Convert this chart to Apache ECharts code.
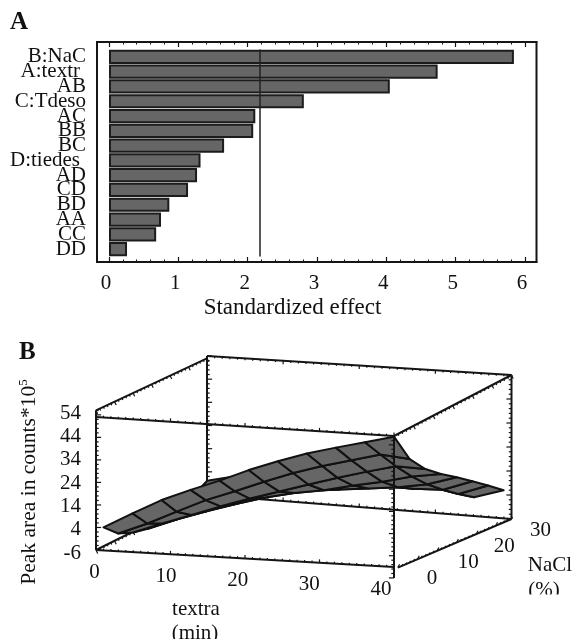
<!DOCTYPE html>
<html><head><meta charset="utf-8">
<style>html,body{margin:0;padding:0;background:#fff}#c{width:574px;height:642px}</style>
<script src="https://cdn.jsdelivr.net/npm/echarts@6/dist/echarts.min.js"></script>
</head><body><div id="c"></div>
<script>
// ---- Panel A data
const effectNames = ['B:NaC','A:textr','AB','C:Tdeso','AC','BB','BC','D:tiedes','AD','CD','BD','AA','CC','DD'];
const effectValues = [5.84,4.74,4.05,2.81,2.11,2.08,1.66,1.32,1.27,1.14,0.87,0.75,0.68,0.26];
const significance = 2.18;
const effectTicks = [0,1,2,3,4,5,6];
const effectMinorTicks = [];
for (let i=0;i<=30;i++) if (i%5) effectMinorTicks.push(i/5);

// ---- Panel B data
const textraLevels = [1,4.9,8.8,12.7,16.6,20.5,24.4,28.3,32.2,36.1,40];
const naclLevels = [0,4,8,12,16,20,24,28];
const peak01 = [4.4,-1.7,-4.5,-6.1,-6.4,-4.7,-1.6,2];
const peak05 = [11.5,3.6,0.3,-1.1,-0.9,-0.1,1.3,5];
const peak09 = [18.3,9.7,4.9,3.3,2.8,2.9,3,3.7];
const peak13 = [23.7,15.7,9.6,7.4,6.6,6.5,6.6,6.8];
const peak17 = [28.7,20.5,13.9,11.1,9.8,9.5,9.3,9];
const peak21 = [34.3,25.6,17.9,13.9,11.8,11.1,11,10.6];
const peak24 = [39.1,30.3,21.8,16,13.1,12,11.8,11.4];
const peak28 = [43.5,34.3,25.6,18.9,14.5,12.3,11.7,11];
const peak32 = [47,37.7,29.2,21.4,15.9,12.1,10.2,8.8];
const peak36 = [50.3,41.1,32.4,24.6,18,12.6,7.8,3.5];
const peak40 = [53.7,39.9,32,26.5,21.9,17.1,12.3,7.4];
const peakColumns = [peak01,peak05,peak09,peak13,peak17,peak21,peak24,peak28,peak32,peak36,peak40];
const peakTicks = [-6,4,14,24,34,44,54];
const textraTicks = [0,10,20,30,40];
const naclTicks = [0,10,20,30];

// ---- 3D view: screen position of the eight corners of the box
const view = {
  t:[0,40], n:[0,30], z:[-6,54],
  c000:[96,550], c100:[394,567], c010:[207,495], c110:[511.5,519],
  c001:[96,417], c101:[394,436], c011:[207,356], c111:[511.5,375]
};
function project(t,n,z){
  const a=(t-view.t[0])/(view.t[1]-view.t[0]), b=(n-view.n[0])/(view.n[1]-view.n[0]), c=(z-view.z[0])/(view.z[1]-view.z[0]);
  const out=[0,0];
  for (const k of [0,1]) {
    const bottom=(1-b)*((1-a)*view.c000[k]+a*view.c100[k])+b*((1-a)*view.c010[k]+a*view.c110[k]);
    const top=(1-b)*((1-a)*view.c001[k]+a*view.c101[k])+b*((1-a)*view.c011[k]+a*view.c111[k]);
    out[k]=(1-c)*bottom+c*top;
  }
  return out;
}
// edges of the box: from, to, subdivisions, major every, tick direction
const backEdges = [
  [[0,30,-6],[0,30,54],30,5,[3,0]],
  [[0,30,54],[40,30,54],40,10,[0,2]],
  [[40,30,-6],[40,30,54],30,5,[-3,0]],
  [[0,30,-6],[40,30,-6],40,10,[0,-2]],
  [[0,0,-6],[0,30,-6],30,5,[1,2]]
];
const frontEdges = [
  [[0,0,-6],[0,0,57],31,5,[3,0]],
  [[0,0,54],[40,0,54],40,10,[0,-2]],
  [[0,0,-6],[40,0,-6],40,10,[0,-2]],
  [[40,0,-11],[40,0,54],32,5,[-3,0]],
  [[0,0,57],[0,30,53],30,5,[1,2]],
  [[40,0,54],[40,30,54],30,5,[1,2]],
  [[40,1,-7],[40,30,-6],29,5,[1,-2]]
];
const surfaceCells = [];
for (let i=naclLevels.length-2;i>=0;i--) for (let j=0;j<textraLevels.length-1;j++) surfaceCells.push([j,i]);

const LINE='#151515', FILL='#666666', FONT='"Liberation Serif"';
const chart = echarts.init(document.getElementById('c'),null,{renderer:'canvas'});

function edgeRenderer(edges){
  return function(params,api){
    const e=edges[params.dataIndex], kids=[];
    const pt=(s)=>{const p=e[0],q=e[1];return project(p[0]+(q[0]-p[0])*s,p[1]+(q[1]-p[1])*s,p[2]+(q[2]-p[2])*s);};
    const a=api.coord(pt(0)), b=api.coord(pt(1));
    kids.push({type:'line',shape:{x1:a[0],y1:a[1],x2:b[0],y2:b[1]},style:{stroke:LINE,lineWidth:2}});
    for (let k=0;k<=e[2];k++){
      const p=api.coord(pt(k/e[2])), m=(k%e[3]===0)?1.7:0.9;
      kids.push({type:'line',shape:{x1:p[0],y1:p[1],x2:p[0]+e[4][0]*m,y2:p[1]+e[4][1]*m},style:{stroke:LINE,lineWidth:1.2}});
    }
    return {type:'group',children:kids};
  };
}
function labelItem(text,p,align){
  return {type:'text',x:p[0],y:p[1],style:{text:String(text),font:'21px '+FONT,fill:'#111',textAlign:align,textVerticalAlign:'middle',verticalAlign:'middle'}};
}
const axisLabelData = [
  ...peakTicks.map(v=>['z',v]), ...textraTicks.map(v=>['t',v]), ...naclTicks.map(v=>['n',v])
];
const hiddenIdx = {xAxisIndex:5,yAxisIndex:2};

const option = {
  animation:false, backgroundColor:'#fff',
  grid:[
    {left:109,width:416,top:49.5,height:207,containLabel:false},
    {left:97,width:439.5,top:42,height:220,show:true,borderColor:LINE,borderWidth:2,backgroundColor:'transparent'},
    {left:0,top:0,width:574,height:642}
  ],
  xAxis:[
    {gridIndex:0,type:'value',min:0,max:6,show:false},
    {gridIndex:1,type:'value',min:-0.173,max:6.166,position:'bottom',splitLine:{show:false},axisLine:{show:true,lineStyle:{color:LINE,width:2}},
      axisTick:{show:true,inside:true,length:5,customValues:effectTicks,lineStyle:{color:LINE,width:1.2}},
      axisLabel:{show:true,customValues:effectTicks,margin:11,padding:[0,6,0,0],color:'#111',fontFamily:FONT,fontSize:21,formatter:v=>String(v)}},
    {gridIndex:1,type:'value',min:-0.173,max:6.166,position:'bottom',splitLine:{show:false},axisLine:{show:false},
      axisTick:{show:true,inside:true,length:2.5,customValues:effectMinorTicks,lineStyle:{color:LINE,width:1}},axisLabel:{show:false}},
    {gridIndex:1,type:'value',min:-0.173,max:6.166,position:'top',splitLine:{show:false},axisLine:{show:true,lineStyle:{color:LINE,width:2}},
      axisTick:{show:true,inside:true,length:5,customValues:effectTicks,lineStyle:{color:LINE,width:1.2}},axisLabel:{show:false}},
    {gridIndex:1,type:'value',min:-0.173,max:6.166,position:'top',splitLine:{show:false},axisLine:{show:false},
      axisTick:{show:true,inside:true,length:2.5,customValues:effectMinorTicks,lineStyle:{color:LINE,width:1}},axisLabel:{show:false}},
    {gridIndex:2,type:'value',min:0,max:574,show:false}
  ],
  yAxis:[
    {gridIndex:0,type:'category',inverse:true,data:effectNames,axisLine:{show:false},axisTick:{show:false},
      axisLabel:{interval:0,margin:23,color:'#111',fontFamily:FONT,fontSize:21,hideOverlap:false,lineHeight:16,
        formatter:v=>v==='A:textr'||v==='D:tiedes'?'{s|'+v+'}':v,
        rich:{s:{fontFamily:FONT,fontSize:21,color:'#111',padding:[0,6,0,0]}}}},
    {gridIndex:1,type:'value',min:0,max:1,show:false},
    {gridIndex:2,type:'value',min:0,max:642,inverse:true,show:false}
  ],
  series:[
    {type:'bar',xAxisIndex:0,yAxisIndex:0,data:effectValues,barWidth:14.2,z:2,
      itemStyle:{color:FILL,borderColor:'#1c1c1c',borderWidth:2},
      markLine:{silent:true,symbol:'none',label:{show:false},z:5,lineStyle:{color:'#222',width:1.5,type:'solid'},data:[{xAxis:significance}]}},
    {type:'custom',...hiddenIdx,clip:false,silent:true,z:3,data:backEdges.map((e,i)=>[i,i]),renderItem:edgeRenderer(backEdges)},
    {type:'custom',...hiddenIdx,clip:false,silent:true,z:4,data:surfaceCells,
      renderItem:function(params,api){
        const c=surfaceCells[params.dataIndex], j=c[0], i=c[1];
        const corner=(jj,ii)=>api.coord(project(textraLevels[jj],naclLevels[ii],peakColumns[jj][ii]));
        return {type:'polygon',shape:{points:[corner(j,i),corner(j+1,i),corner(j+1,i+1),corner(j,i+1)]},
          style:{fill:FILL,stroke:'#111',lineWidth:2,lineJoin:'round'}};
      }},
    {type:'custom',...hiddenIdx,clip:false,silent:true,z:5,data:frontEdges.map((e,i)=>[i,i]),renderItem:edgeRenderer(frontEdges)},
    {type:'custom',...hiddenIdx,clip:false,silent:true,z:6,data:axisLabelData.map((e,i)=>[i,i]),
      renderItem:function(params,api){
        const d=axisLabelData[params.dataIndex], v=d[1];
        if (d[0]==='z'){const p=api.coord(project(0,0,v));return labelItem(v,[81,p[1]+3-(v+6)*7/60],'right');}
        if (d[0]==='t'){const p=api.coord(project(v,0,-6));return labelItem(v,[p[0]-1.5-0.29*v,p[1]+22],'center');}
        const p=api.coord(project(40,v,-6));return labelItem(v,[p[0]+38-0.3*v,p[1]+11],'center');
      }}
  ],
  graphic:[
    {type:'text',x:10,y:23,z:10,style:{text:'A',font:'bold 25px '+FONT,fill:'#111',textVerticalAlign:'middle',verticalAlign:'middle'}},
    {type:'text',x:19,y:353,z:10,style:{text:'B',font:'bold 25px '+FONT,fill:'#111',textVerticalAlign:'middle',verticalAlign:'middle'}},
    {type:'text',x:292.5,y:308,z:10,style:{text:'Standardized effect',font:'23px '+FONT,fill:'#111',textAlign:'center',textVerticalAlign:'middle',verticalAlign:'middle'}},
    {type:'text',x:196,y:609,z:10,style:{text:'textra',font:'21px '+FONT,fill:'#111',textAlign:'center',textVerticalAlign:'middle',verticalAlign:'middle'}},
    {type:'text',x:195,y:633,z:10,style:{text:'(min)',font:'21px '+FONT,fill:'#111',textAlign:'center',textVerticalAlign:'middle',verticalAlign:'middle'}},
    {type:'text',x:550,y:565,z:10,style:{text:'NaCl',font:'21px '+FONT,fill:'#111',textAlign:'center',textVerticalAlign:'middle',verticalAlign:'middle'}},
    {type:'text',x:544,y:590,z:10,style:{text:'(%)',font:'21px '+FONT,fill:'#111',textAlign:'center',textVerticalAlign:'middle',verticalAlign:'middle'}},
    {type:'text',x:29,y:482,z:10,rotation:Math.PI/2,style:{
      text:'{m|Peak area in counts*10}{u|5}',textAlign:'center',textVerticalAlign:'middle',verticalAlign:'middle',
      rich:{m:{font:'21.5px '+FONT,fill:'#111',lineHeight:24},u:{font:'13px '+FONT,fill:'#111',verticalAlign:'top',lineHeight:24}}}},
    {type:'rect',x:520,y:594.5,z:12,shape:{width:54,height:8},style:{fill:'#fff'}},
    {type:'rect',x:165,y:639,z:12,shape:{width:60,height:3},style:{fill:'#fff'}}
  ]
};
chart.setOption(option);
</script></body></html>
